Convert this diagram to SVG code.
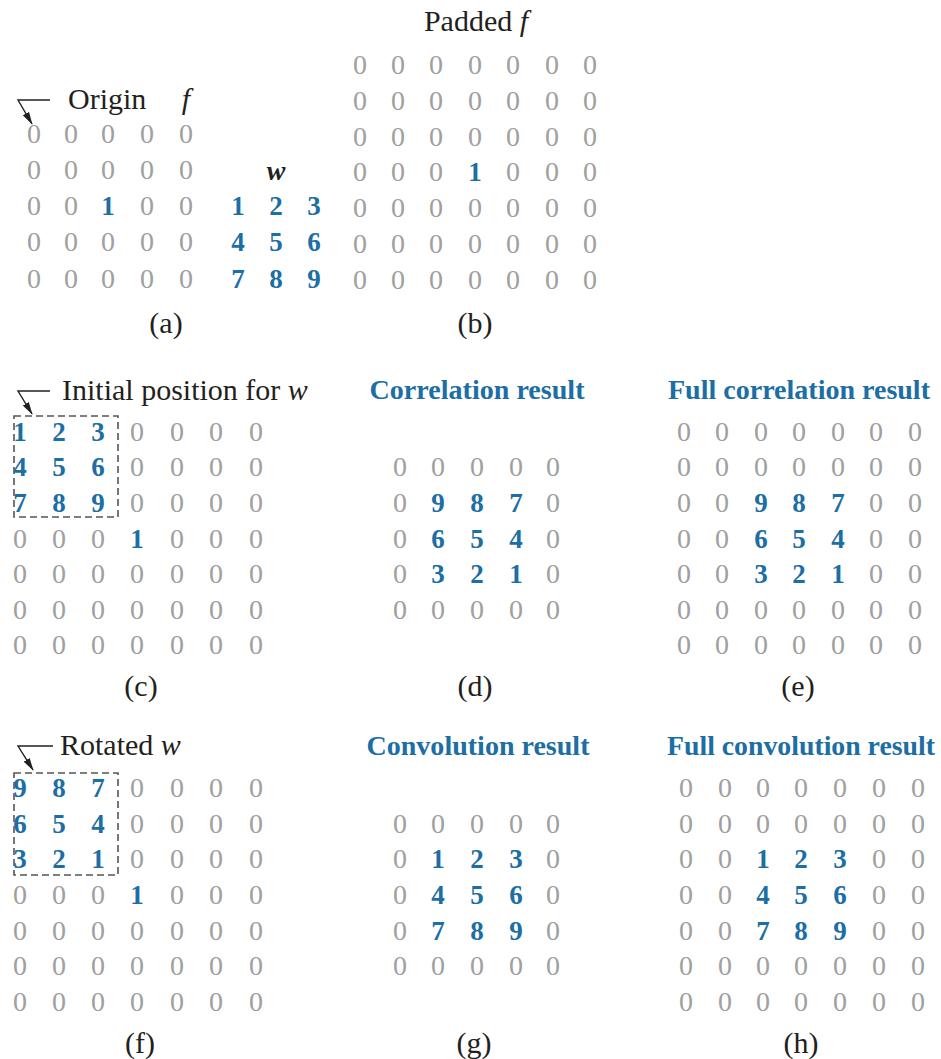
<svg xmlns="http://www.w3.org/2000/svg" width="941" height="1059" viewBox="0 0 941 1059">
<defs>
<style>
.z{font-family:"Liberation Serif","Times New Roman",serif;font-size:28px;fill:#a0a0a0;text-anchor:middle}
.b{font-family:"Liberation Serif","Times New Roman",serif;font-weight:bold;font-size:27px;fill:#1c6ea4;text-anchor:middle}
.l{font-family:"Liberation Serif","Times New Roman",serif;font-size:30px;fill:#231f20}
.c{text-anchor:middle}
.t{font-family:"Liberation Serif","Times New Roman",serif;font-weight:bold;font-size:28px;fill:#1c6ea4;text-anchor:middle}
.i{font-style:italic}
.box{fill:none;stroke:#555;stroke-width:1.6;stroke-dasharray:7 4}
.ar{fill:none;stroke:#231f20;stroke-width:1.4}
</style>
<marker id="ah" viewBox="0 0 13 8" refX="12" refY="4" markerWidth="13" markerHeight="8" markerUnits="userSpaceOnUse" orient="auto">
<path d="M0,0.5 L13,4 L0,7.5 Z" fill="#231f20"/>
</marker>
</defs>
<rect width="941" height="1059" fill="#fff"/>

<g id="connectors">
<path class="ar" d="M50,100 H18 L32,124" marker-end="url(#ah)"/>
<path class="ar" d="M50,391 H18 L32,414" marker-end="url(#ah)"/>
<path class="ar" d="M53,746 H18 L33,770" marker-end="url(#ah)"/>
</g>

<g id="panel-a">
<text class="l" x="68" y="109">Origin</text>
<text class="l i" x="186" y="109" text-anchor="middle">f</text>
<text class="z" x="34 71 108 147 186" y="143">00000</text>
<text class="z" x="34 71 108 147 186" y="179">00000</text>
<text class="z" x="34 71" y="215">00</text>
<text class="b" x="108" y="215">1</text>
<text class="z" x="147 186" y="215">00</text>
<text class="z" x="34 71 108 147 186" y="251">00000</text>
<text class="z" x="34 71 108 147 186" y="288">00000</text>
<text class="l c" x="166" y="333">(a)</text>
</g>

<g id="kernel-w">
<text x="276" y="180" style="font-family:'Liberation Serif','Times New Roman',serif;font-size:28px;font-style:italic;font-weight:bold;fill:#231f20;text-anchor:middle">w</text>
<text class="b" x="238 276 314" y="215">123</text>
<text class="b" x="238 276 314" y="251">456</text>
<text class="b" x="238 276 314" y="288">789</text>
</g>

<g id="panel-b">
<text class="l c" x="476" y="31">Padded <tspan class="i">f</tspan></text>
<text class="z" x="360 398 436 475 513 552 590" y="74">0000000</text>
<text class="z" x="360 398 436 475 513 552 590" y="110">0000000</text>
<text class="z" x="360 398 436 475 513 552 590" y="146">0000000</text>
<text class="z" x="360 398 436" y="181">000</text>
<text class="b" x="475" y="181">1</text>
<text class="z" x="513 552 590" y="181">000</text>
<text class="z" x="360 398 436 475 513 552 590" y="217">0000000</text>
<text class="z" x="360 398 436 475 513 552 590" y="253">0000000</text>
<text class="z" x="360 398 436 475 513 552 590" y="289">0000000</text>
<text class="l c" x="475" y="333">(b)</text>
</g>

<g id="panel-c">
<text class="l" x="62" y="400">Initial position for <tspan class="i">w</tspan></text>
<rect class="box" x="14" y="416" width="104" height="101"/>
<text class="b" x="20 59 98" y="441">123</text>
<text class="z" x="137 177 216 256" y="441">0000</text>
<text class="b" x="20 59 98" y="476">456</text>
<text class="z" x="137 177 216 256" y="476">0000</text>
<text class="b" x="20 59 98" y="512">789</text>
<text class="z" x="137 177 216 256" y="512">0000</text>
<text class="z" x="20 59 98" y="548">000</text>
<text class="b" x="137" y="548">1</text>
<text class="z" x="177 216 256" y="548">000</text>
<text class="z" x="20 59 98 137 177 216 256" y="583">0000000</text>
<text class="z" x="20 59 98 137 177 216 256" y="619">0000000</text>
<text class="z" x="20 59 98 137 177 216 256" y="654">0000000</text>
<text class="l c" x="141" y="696">(c)</text>
</g>

<g id="panel-d">
<text class="t" x="477" y="399" textLength="215" lengthAdjust="spacingAndGlyphs">Correlation result</text>
<text class="z" x="400 438 477 516 553" y="476">00000</text>
<text class="z" x="400" y="512">0</text>
<text class="b" x="438 477 516" y="512">987</text>
<text class="z" x="553" y="512">0</text>
<text class="z" x="400" y="548">0</text>
<text class="b" x="438 477 516" y="548">654</text>
<text class="z" x="553" y="548">0</text>
<text class="z" x="400" y="583">0</text>
<text class="b" x="438 477 516" y="583">321</text>
<text class="z" x="553" y="583">0</text>
<text class="z" x="400 438 477 516 553" y="619">00000</text>
<text class="l c" x="475" y="696">(d)</text>
</g>

<g id="panel-e">
<text class="t" x="799" y="399" textLength="262" lengthAdjust="spacingAndGlyphs">Full correlation result</text>
<text class="z" x="684 722 761 799 838 876 915" y="441">0000000</text>
<text class="z" x="684 722 761 799 838 876 915" y="476">0000000</text>
<text class="z" x="684 722" y="512">00</text>
<text class="b" x="761 799 838" y="512">987</text>
<text class="z" x="876 915" y="512">00</text>
<text class="z" x="684 722" y="548">00</text>
<text class="b" x="761 799 838" y="548">654</text>
<text class="z" x="876 915" y="548">00</text>
<text class="z" x="684 722" y="583">00</text>
<text class="b" x="761 799 838" y="583">321</text>
<text class="z" x="876 915" y="583">00</text>
<text class="z" x="684 722 761 799 838 876 915" y="619">0000000</text>
<text class="z" x="684 722 761 799 838 876 915" y="654">0000000</text>
<text class="l c" x="798" y="696">(e)</text>
</g>

<g id="panel-f">
<text class="l" x="60" y="755">Rotated <tspan class="i">w</tspan></text>
<rect class="box" x="14" y="773" width="104" height="102"/>
<text class="b" x="20 59 98" y="797">987</text>
<text class="z" x="137 177 216 256" y="797">0000</text>
<text class="b" x="20 59 98" y="833">654</text>
<text class="z" x="137 177 216 256" y="833">0000</text>
<text class="b" x="20 59 98" y="868">321</text>
<text class="z" x="137 177 216 256" y="868">0000</text>
<text class="z" x="20 59 98" y="904">000</text>
<text class="b" x="137" y="904">1</text>
<text class="z" x="177 216 256" y="904">000</text>
<text class="z" x="20 59 98 137 177 216 256" y="940">0000000</text>
<text class="z" x="20 59 98 137 177 216 256" y="975">0000000</text>
<text class="z" x="20 59 98 137 177 216 256" y="1011">0000000</text>
<text class="l c" x="140" y="1053">(f)</text>
</g>

<g id="panel-g">
<text class="t" x="478" y="755" textLength="223" lengthAdjust="spacingAndGlyphs">Convolution result</text>
<text class="z" x="400 438 477 516 553" y="833">00000</text>
<text class="z" x="400" y="868">0</text>
<text class="b" x="438 477 516" y="868">123</text>
<text class="z" x="553" y="868">0</text>
<text class="z" x="400" y="904">0</text>
<text class="b" x="438 477 516" y="904">456</text>
<text class="z" x="553" y="904">0</text>
<text class="z" x="400" y="940">0</text>
<text class="b" x="438 477 516" y="940">789</text>
<text class="z" x="553" y="940">0</text>
<text class="z" x="400 438 477 516 553" y="975">00000</text>
<text class="l c" x="474" y="1053">(g)</text>
</g>

<g id="panel-h">
<text class="t" x="801" y="755" textLength="268" lengthAdjust="spacingAndGlyphs">Full convolution result</text>
<text class="z" x="686 725 763 801 840 879 918" y="797">0000000</text>
<text class="z" x="686 725 763 801 840 879 918" y="833">0000000</text>
<text class="z" x="686 725" y="868">00</text>
<text class="b" x="763 801 840" y="868">123</text>
<text class="z" x="879 918" y="868">00</text>
<text class="z" x="686 725" y="904">00</text>
<text class="b" x="763 801 840" y="904">456</text>
<text class="z" x="879 918" y="904">00</text>
<text class="z" x="686 725" y="940">00</text>
<text class="b" x="763 801 840" y="940">789</text>
<text class="z" x="879 918" y="940">00</text>
<text class="z" x="686 725 763 801 840 879 918" y="975">0000000</text>
<text class="z" x="686 725 763 801 840 879 918" y="1011">0000000</text>
<text class="l c" x="801" y="1053">(h)</text>
</g>
</svg>
